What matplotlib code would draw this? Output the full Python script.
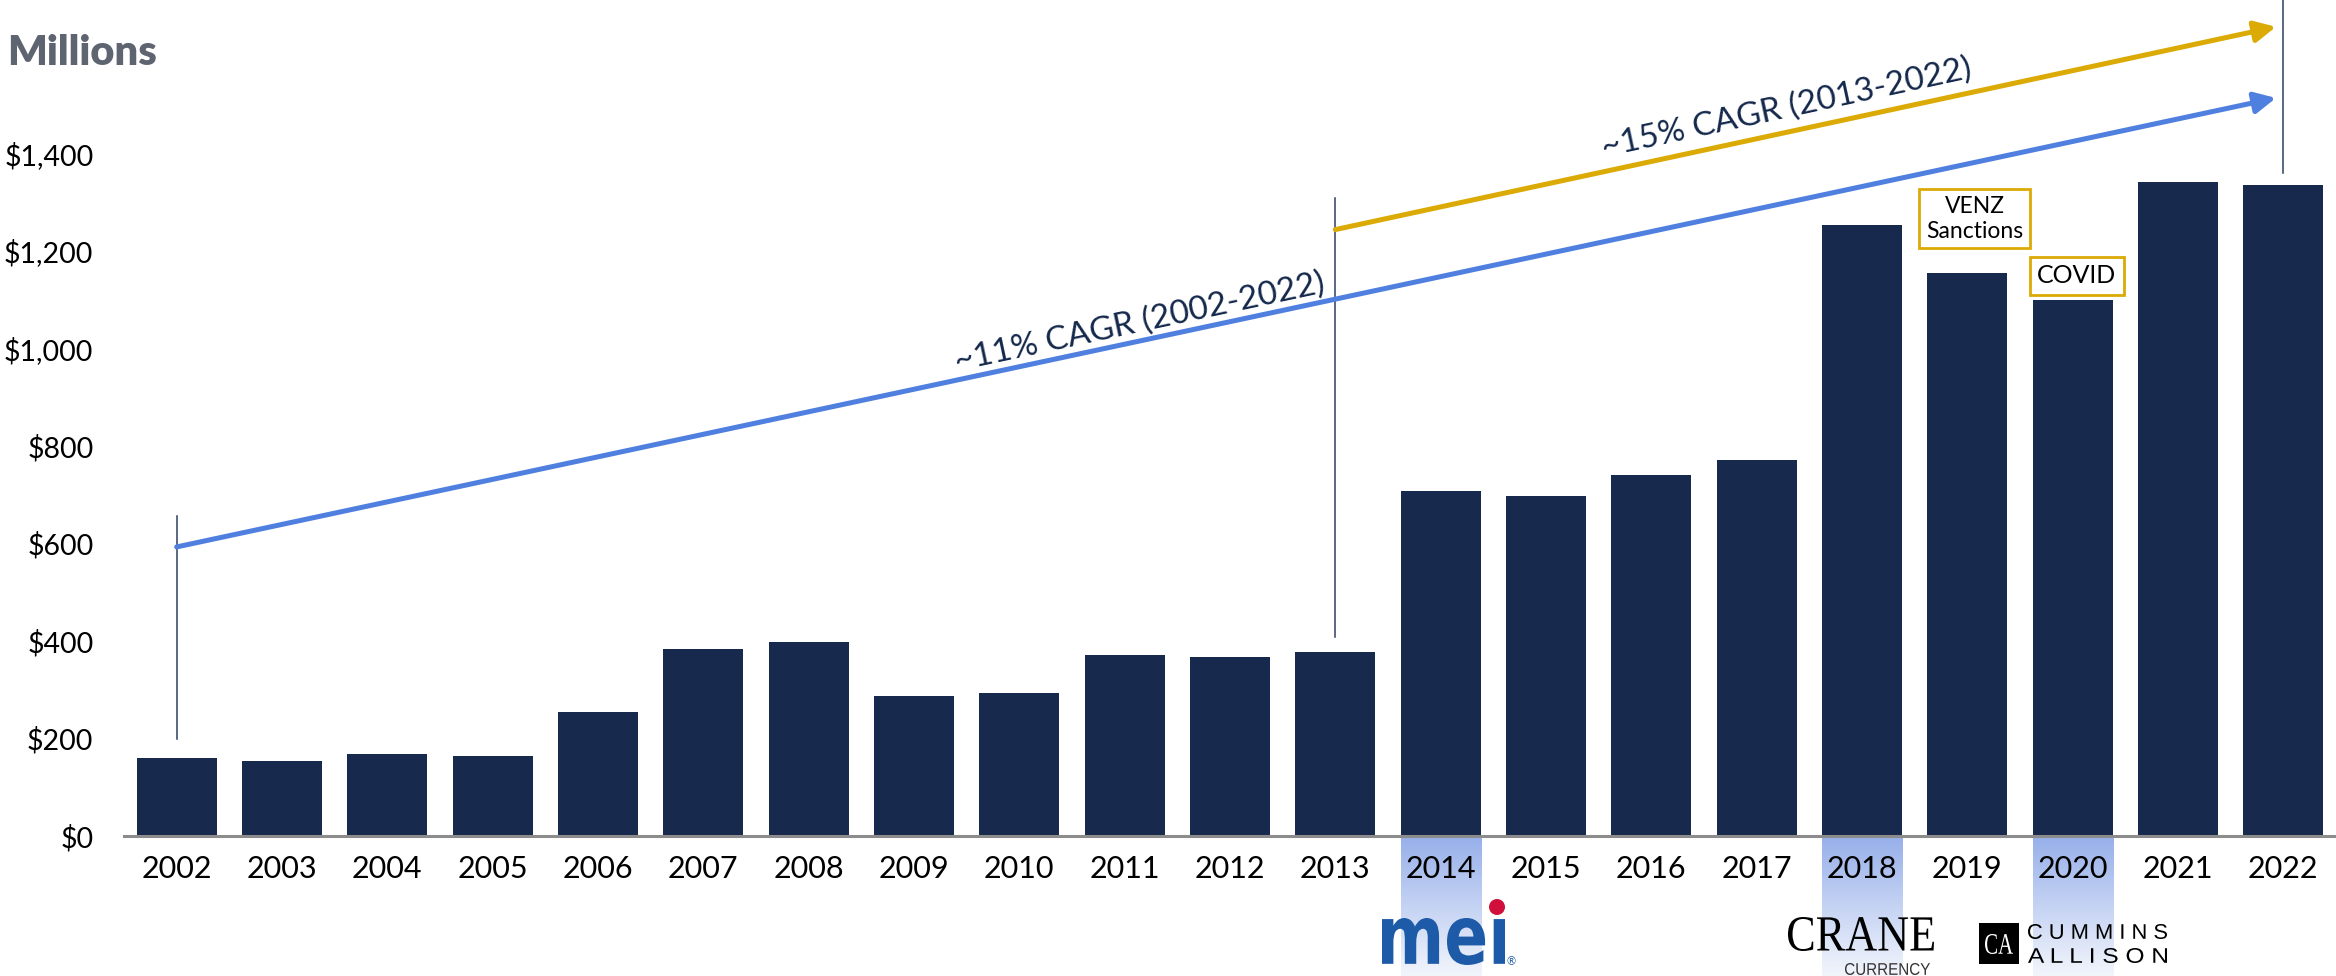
import matplotlib
matplotlib.use('Agg')
import matplotlib.pyplot as plt
import numpy as np
from matplotlib.textpath import TextPath
from matplotlib.patches import PathPatch, Rectangle, Circle
from matplotlib.font_manager import FontProperties
from matplotlib.transforms import Affine2D
from matplotlib.colors import LinearSegmentedColormap

# data (millions of $)
years = [str(y) for y in range(2002, 2023)]
revenue = [160, 154, 168, 164, 254, 383, 398, 288, 294, 371, 368,
           377, 708, 698, 741, 772, 1253, 1155, 1100, 1342, 1336]
y_ticks = [0, 200, 400, 600, 800, 1000, 1200, 1400]
y_tick_labels = ['$0', '$200', '$400', '$600', '$800', '$1,000', '$1,200', '$1,400']
highlight_years = ['2014', '2018', '2020']

# CAGR arrows (year index, value)
cagr_all_start = (0, 593)
cagr_all_end = (19.93, 1514)
cagr_recent_start = (11, 1244)
cagr_recent_end = (19.93, 1660)
cagr_all_label = '~11% CAGR (2002-2022)'
cagr_recent_label = '~15% CAGR (2013-2022)'

# thin vertical markers: (year index, from value, to value)
markers = [(0, 199, 656), (11, 408, 1308), (20, 1360, 1760)]

# event callouts
events = [(17.07, 1266, 'VENZ\nSanctions', 16.5), (18.04, 1149, 'COVID', 18)]

W, H = 2336, 976
NAVY = '#17294d'
BLUE = '#4f7fdf'
GOLD = '#dcaa04'
TEXT_NAVY = '#14284b'

plt.rcParams['font.family'] = ['Lato', 'DejaVu Sans']

fig = plt.figure(figsize=(W / 100, H / 100), dpi=100)
ax = fig.add_axes([124 / W, (H - 836) / H, (W - 124) / W, 836 / H])

x = np.arange(len(years))
ymin_below = -287

# highlight gradient columns under selected years
cmap = LinearSegmentedColormap.from_list('hl', ['#97b0ea', '#f2f5fc'])
grad = np.linspace(0, 1, 200).reshape(-1, 1)
for yr in highlight_years:
    i = years.index(yr)
    ax.imshow(grad, extent=(i - 0.38, i + 0.38, ymin_below, 0), aspect='auto',
              cmap=cmap, origin='upper', clip_on=False, zorder=0)

ax.bar(x, revenue, width=0.76, color=NAVY, zorder=2)

for xi, y0, y1 in markers:
    ax.plot([xi, xi], [y0, y1], color='#2d3e63', lw=1.1, zorder=1, clip_on=False)

ax.set_xlim(-0.5, 20.5)
ax.set_ylim(0, 1715)

ax.annotate('', xy=cagr_all_end, xytext=cagr_all_start,
            arrowprops=dict(arrowstyle='-|>', color=BLUE, lw=3.6,
                            mutation_scale=32, shrinkA=0, shrinkB=0), zorder=3)
ax.annotate('', xy=cagr_recent_end, xytext=cagr_recent_start,
            arrowprops=dict(arrowstyle='-|>', color=GOLD, lw=3.6,
                            mutation_scale=32, shrinkA=0, shrinkB=0), zorder=3)


def line_angle(p0, p1):
    a = ax.transData.transform(p0)
    b = ax.transData.transform(p1)
    return np.degrees(np.arctan2(b[1] - a[1], b[0] - a[0]))


def on_line(p0, p1, xv):
    return p0[1] + (xv - p0[0]) / (p1[0] - p0[0]) * (p1[1] - p0[1])


ang = line_angle(cagr_all_start, cagr_all_end)
ax.text(9.17, on_line(cagr_all_start, cagr_all_end, 9.17) + 6, cagr_all_label,
        rotation=ang, rotation_mode='anchor', ha='center', va='bottom',
        fontsize=24, color=TEXT_NAVY, zorder=4)
ang = line_angle(cagr_recent_start, cagr_recent_end)
ax.text(15.31, on_line(cagr_recent_start, cagr_recent_end, 15.31) + 18, cagr_recent_label,
        rotation=ang, rotation_mode='anchor', ha='center', va='bottom',
        fontsize=24, color=TEXT_NAVY, zorder=4)

for ex, ey, label, fs in events:
    ax.text(ex, ey, label, ha='center', va='center', fontsize=fs, color='black',
            linespacing=1.2, zorder=4,
            bbox=dict(boxstyle='square,pad=0.3', fc='white', ec=GOLD, lw=2))

ax.set_xticks(x)
ax.set_xticklabels(years, fontsize=22)
ax.set_yticks(y_ticks)
ax.set_yticklabels(y_tick_labels, fontsize=20.5)
ax.tick_params(axis='x', length=0, pad=14)
ax.tick_params(axis='y', length=0, pad=22)
for s in ['top', 'right', 'left']:
    ax.spines[s].set_visible(False)
ax.spines['bottom'].set_color('#8c8c8c')
ax.spines['bottom'].set_linewidth(2.2)
ax.spines['bottom'].set_zorder(3)

fig.text(7 / W, 1 - 65 / H, 'Millions', fontsize=30, fontweight='heavy',
         color='#5e6571', va='baseline', ha='left')

# logos, drawn as text paths in pixel boxes (top-left origin)
px = Affine2D().scale(1 / W, 1 / H) + fig.transFigure


def logo_text(s, x0, x1, y0, y1, color, prop):
    tp = TextPath((0, 0), s, size=100, prop=prop)
    bb = tp.get_extents()
    tr = (Affine2D().translate(-bb.x0, -bb.y0)
          .scale((x1 - x0) / bb.width, (y1 - y0) / bb.height)
          .translate(x0, H - y1))
    fig.add_artist(PathPatch(tr.transform_path(tp), fc=color, ec='none', transform=px))


bold_sans = FontProperties(family='DejaVu Sans', weight='bold')
serif = FontProperties(family='Liberation Serif')
sans = FontProperties(family='Liberation Sans')

# mei
logo_text('me\u0131', 1382, 1505, 918, 965, '#1d5aa8', bold_sans)
fig.add_artist(Circle((1497, H - 907), 8, fc='#d0103a', ec='none', transform=px))
fig.text(1511 / W, 1 - 962 / H, '\u00ae', fontsize=8, color='#1d5aa8',
         ha='center', va='center')

# Crane Currency
logo_text('CRANE', 1788, 1934, 917, 951, 'black', serif)
logo_text('CURRENCY', 1845, 1930, 963, 975, '#333333', sans)

# Cummins Allison
fig.add_artist(Rectangle((1979, H - 964), 40, 41, fc='black', ec='none', transform=px))
logo_text('CA', 1985, 2013, 934, 954, 'white', serif)
logo_text(' '.join('CUMMINS'), 2028, 2167, 924, 939, 'black', sans)
logo_text(' '.join('ALLISON'), 2028, 2167, 948, 963, 'black', sans)

fig.savefig('out.png', dpi=100)
